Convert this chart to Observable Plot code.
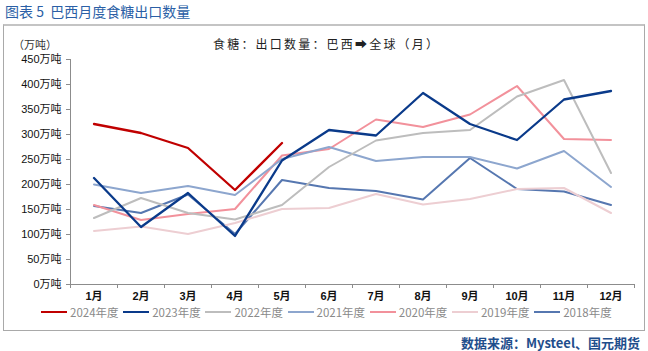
<!DOCTYPE html>
<html>
<head>
<meta charset="utf-8">
<script src="https://cdn.jsdelivr.net/npm/d3@7"></script>
<script src="https://cdn.jsdelivr.net/npm/@observablehq/plot@0.6"></script>
<style>
  html, body { margin: 0; padding: 0; background: #fff; }
  body { width: 648px; height: 351px; position: relative; overflow: hidden;
         font-family: "Liberation Sans", "Noto Sans CJK SC", sans-serif; }
  #title { position: absolute; left: 5px; top: 2px; font-size: 14px; color: #2B5FA6;
           font-family: "Noto Sans CJK SC", sans-serif; white-space: pre; line-height: 18px; }
  #frame { position: absolute; left: 3px; top: 24px; width: 640px; height: 304px;
           border: 1px solid #a9a9a9; border-top: 2px solid #c4c4c4; }
  #chart { position: absolute; left: 0; top: 30px; }
  #unit { position: absolute; left: 13px; top: 36px; font-size: 11px; color: #333;
          font-family: "Noto Sans CJK SC", sans-serif; }
  #inner { position: absolute; left: 213px; top: 35px; font-size: 12px; letter-spacing: 2.2px;
           color: #222; font-family: "Noto Sans CJK SC", sans-serif; white-space: nowrap; }
  #legend { position: absolute; left: 41px; top: 304px; height: 16px; display: flex; }
  .item { width: 82.2px; display: flex; align-items: center; flex: none; }
  .sw { width: 26px; height: 2.5px; margin-right: 3px; flex: none; }
  .lab { font-size: 11.5px; color: #8a8a8a; font-family: "Noto Sans CJK SC", sans-serif; white-space: nowrap; }
  #caption { position: absolute; right: 8px; top: 333px; font-size: 13px; font-weight: bold; color: #1F4E8C;
             font-family: "Noto Sans CJK SC", sans-serif; }
</style>
</head>
<body>
<div id="title">图表 5  巴西月度食糖出口数量</div>
<div id="frame"></div>
<div id="chart"></div>
<div id="unit">（万吨）</div>
<div id="inner">食糖：出口数量：巴西➡全球（月）</div>
<div id="legend"></div>
<div id="caption">数据来源：Mysteel、国元期货</div>
<script>
const months = ["1月","2月","3月","4月","5月","6月","7月","8月","9月","10月","11月","12月"];
const years = ["2024年度","2023年度","2022年度","2021年度","2020年度","2019年度","2018年度"];
const colors = ["#C00000","#0A3A8A","#BDBDBD","#8DA6CE","#F2919B","#EDCED2","#5677B0"];
const widths = [2.3, 2.3, 2, 2, 2, 2, 2];
const v2024 = [321, 303, 273, 189, 283];
const v2023 = [213, 115, 183, 97, 248, 309, 298, 383, 321, 289, 370, 387];
const v2022 = [133, 173, 143, 130, 159, 235, 288, 303, 309, 376, 409, 223];
const v2021 = [200, 183, 197, 179, 251, 275, 247, 255, 255, 232, 267, 195];
const v2020 = [159, 129, 141, 151, 258, 271, 330, 315, 340, 397, 291, 289];
const v2019 = [107, 116, 101, 123, 151, 153, 181, 160, 171, 191, 193, 143];
const v2018 = [157, 143, 180, 101, 209, 193, 187, 170, 253, 191, 186, 159];
const yTicks = [0, 50, 100, 150, 200, 250, 300, 350, 400, 450];

const series = [v2024, v2023, v2022, v2021, v2020, v2019, v2018];
const monthIdx = months.map((_, i) => i + 1);
const boundaries = [0, ...monthIdx].map(i => i + 0.5);
const xDomain = [boundaries[0], boundaries[boundaries.length - 1]];

const lineMarks = [];
for (let s = series.length - 1; s >= 0; s--) {
  const rows = series[s].map((v, i) => ({m: i + 1, v}));
  lineMarks.push(Plot.line(rows, {x: "m", y: "v", stroke: colors[s], strokeWidth: widths[s]}));
}

const axisColor = "#8c8c8c";
const chart = Plot.plot({
  width: 648, height: 276,
  marginLeft: 70, marginRight: 14, marginTop: 29, marginBottom: 22,
  style: {background: "transparent", fontSize: "11px", color: "#111",
          fontFamily: "'Liberation Sans', 'Noto Sans CJK SC', sans-serif", overflow: "visible"},
  x: {type: "linear", domain: xDomain, axis: null},
  y: {domain: [yTicks[0], yTicks[yTicks.length - 1]], axis: null},
  marks: [
    Plot.axisY({ticks: yTicks, tickFormat: d => d + "万吨", tickSize: 4, tickPadding: 5, stroke: axisColor, label: null}),
    Plot.axisX({ticks: boundaries, tickSize: 4, tickFormat: () => "", stroke: axisColor, label: null}),
    Plot.axisX({ticks: monthIdx, tickSize: 0, tickPadding: 8, tickFormat: i => months[i - 1], label: null, fontWeight: "bold"}),
    Plot.ruleX([xDomain[0]], {stroke: axisColor}),
    Plot.ruleY([yTicks[0]], {stroke: axisColor}),
    ...lineMarks
  ]
});
document.getElementById("chart").appendChild(chart);

const legend = document.getElementById("legend");
years.forEach((y, i) => {
  const it = document.createElement("div");
  it.className = "item";
  it.innerHTML = `<span class="sw" style="background:${colors[i]}"></span><span class="lab">${y}</span>`;
  legend.appendChild(it);
});
</script>
</body>
</html>
